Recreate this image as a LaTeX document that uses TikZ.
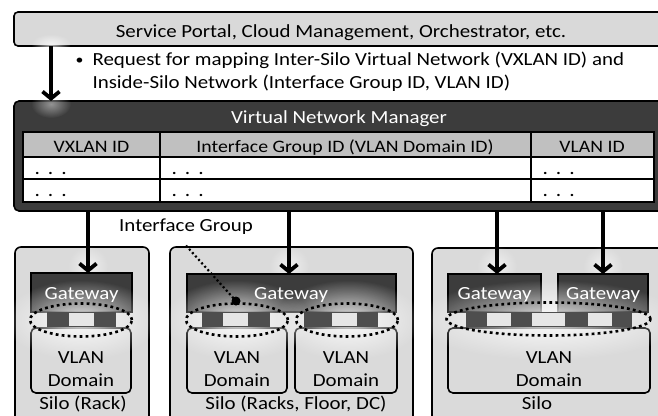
\documentclass[tikz,border=0pt]{standalone}
\usepackage{fontspec}
\setmainfont{Carlito}[FakeStretch=1.13]
\usetikzlibrary{arrows.meta,fadings}
\tikzfading[name=glowfade, inner color=transparent!0, outer color=transparent!100]
\definecolor{lightg}{HTML}{D9D9D9}
\definecolor{darkg}{HTML}{3C3C3C}
\definecolor{headg}{HTML}{C0C0C0}
\definecolor{silog}{HTML}{DADADA}
\definecolor{stripg}{HTML}{4E4E4E}
\definecolor{portg}{HTML}{E6E6E6}
\begin{document}
\begin{tikzpicture}[x=1pt,y=-1pt,
  font=\fontsize{18.5}{23}\selectfont,
  box/.style={draw=black, line width=1.6pt, inner sep=0pt, outer sep=0pt, anchor=north west},
  cell/.style={draw=black, line width=1.4pt, inner sep=0pt, outer sep=0pt, anchor=north west},
  arr/.style={line width=3.8pt, -{Straight Barb[length=7pt,width=17pt]}},
  glow/.style={fill=white, path fading=glowfade},
  hdr/.style={font=\fontsize{17.5}{20}\selectfont, anchor=base},
  dots/.style={font=\fontsize{19}{20}\selectfont, anchor=base west},
  gwtext/.style={text=white, anchor=base},
  ring/.style={draw=black, line width=2.6pt, dash pattern=on 2.8pt off 3.2pt},
  strip/.style={fill=stripg},
  port/.style={fill=portg},
  dom/.style={box, fill=silog, rounded corners=5pt},
  gw/.style={box, fill=darkg, line width=1.2pt}
]
\useasboundingbox (0,0) rectangle (658,415);
\clip (0,0) rectangle (658,415);
\fill[white] (0,0) rectangle (658,415);

% top box
\node[box, fill=lightg, rounded corners=4pt, minimum width=648pt, minimum height=34pt] (portal) at (14,12) {};
\node[anchor=base] (portalt) at (341,37) {Service Portal, Cloud Management, Orchestrator, etc.};
\node[anchor=base east, font=\fontsize{14}{16}\selectfont] (bul) at (87,64) {\textbullet};
\node[anchor=base west] (req1) at (89,65) {Request for mapping Inter-Silo Virtual Network (VXLAN ID) and};
\node[anchor=base west] (req2) at (89,88) {Inside-Silo Network (Interface Group ID, VLAN ID)};

% VNM box
\node[box, fill=darkg, rounded corners=5pt, minimum width=652pt, minimum height=110pt] (vnm) at (14,101) {};
\node[anchor=base, text=white] (vnmt) at (339,123) {Virtual Network Manager};
\fill[glow, fill opacity=0.45] (51,104) ellipse (20pt and 14pt);
\fill[glow, fill opacity=0.7] (51,44) ellipse (20pt and 10pt);

% table
\node[cell, fill=headg, minimum width=137pt, minimum height=25pt] (c11) at (23,132) {};
\node[cell, fill=headg, minimum width=371pt, minimum height=25pt] (c12) at (160,132) {};
\node[cell, fill=headg, minimum width=123pt, minimum height=25pt] (c13) at (531,132) {};
\node[cell, fill=white, minimum width=137pt, minimum height=22pt] (c21) at (23,157) {};
\node[cell, fill=white, minimum width=371pt, minimum height=22pt] (c22) at (160,157) {};
\node[cell, fill=white, minimum width=123pt, minimum height=22pt] (c23) at (531,157) {};
\node[cell, fill=white, minimum width=137pt, minimum height=23pt] (c31) at (23,179) {};
\node[cell, fill=white, minimum width=371pt, minimum height=23pt] (c32) at (160,179) {};
\node[cell, fill=white, minimum width=123pt, minimum height=23pt] (c33) at (531,179) {};
\node[hdr] (h1) at (91.5,152) {VXLAN ID};
\node[hdr] (h2) at (345,152) {Interface Group ID (VLAN Domain ID)};
\node[hdr] (h3) at (592,152) {VLAN ID};
\node[dots] (d21) at (31,174) {.\hspace{8pt}.\hspace{8pt}.};
\node[dots] (d22) at (168,174) {.\hspace{8pt}.\hspace{8pt}.};
\node[dots] (d23) at (539,174) {.\hspace{8pt}.\hspace{8pt}.};
\node[dots] (d31) at (31,196) {.\hspace{8pt}.\hspace{8pt}.};
\node[dots] (d32) at (168,196) {.\hspace{8pt}.\hspace{8pt}.};
\node[dots] (d33) at (539,196) {.\hspace{8pt}.\hspace{8pt}.};

% silos
\node[box, fill=silog, rounded corners=6pt, minimum width=134pt, minimum height=200pt] (silo1) at (15,247) {};
\node[box, fill=silog, rounded corners=6pt, minimum width=243pt, minimum height=200pt] (silo2) at (170,247) {};
\node[box, fill=silog, rounded corners=6pt, minimum width=250pt, minimum height=200pt] (silo3) at (432,248) {};

% arrow glows
\fill[glow, fill opacity=0.6] (88,266) circle (20pt);
\fill[glow, fill opacity=0.6] (289,266) circle (20pt);
\fill[glow, fill opacity=0.6] (497,266) circle (20pt);
\fill[glow, fill opacity=0.6] (603,266) circle (20pt);

% gateways
\node[gw, minimum width=101pt, minimum height=39pt] (g1) at (31,273) {};
\node[gw, minimum width=209pt, minimum height=38pt] (g2) at (187,274) {};
\node[gw, minimum width=93pt, minimum height=38pt] (g3a) at (448,274) {};
\node[gw, minimum width=90pt, minimum height=38pt] (g3b) at (558,274) {};

% VLAN domains
\node[dom, minimum width=100pt, minimum height=65pt] (v1) at (31,328) {};
\node[dom, minimum width=100pt, minimum height=65pt] (v2a) at (187,328) {};
\node[dom, minimum width=102pt, minimum height=65pt] (v2b) at (295,328) {};
\node[dom, minimum width=202pt, minimum height=65pt] (v3) at (448,328) {};

% interface glows
\fill[glow, fill opacity=0.9] (81,320) ellipse (78pt and 40pt);
\fill[glow, fill opacity=0.9] (237,320) ellipse (74pt and 40pt);
\fill[glow, fill opacity=0.9] (348,320) ellipse (74pt and 40pt);
\fill[glow, fill opacity=0.9] (548,320) ellipse (135pt and 40pt);

% strips and ports
\fill[strip] (47,312) rectangle (116,327);
\fill[port] (69,313) rectangle (94,326);
\fill[strip] (202,312) rectangle (270,327);
\fill[port] (223,313) rectangle (248,326);
\fill[strip] (304,312) rectangle (378,327);
\fill[port] (332,313) rectangle (357,326);
\fill[strip] (466,312) rectangle (632,327);
\fill[port] (487,313) rectangle (511,326);
\fill[port] (532,313) rectangle (565,326);
\fill[port] (588,313) rectangle (612,326);

% gateway texts
\node[gwtext] (g1t) at (81.5,299) {Gateway};
\node[gwtext] (g2t) at (291,299) {Gateway};
\node[gwtext] (g3at) at (494.5,299) {Gateway};
\node[gwtext] (g3bt) at (603,299) {Gateway};

% dotted interface groups
\draw[ring] (81,320) ellipse (51pt and 16.5pt);
\draw[ring] (237,320) ellipse (51pt and 16.5pt);
\draw[ring] (347,320) ellipse (51pt and 16.5pt);
\draw[ring] (548.5,319) ellipse (102pt and 16.5pt);

% VLAN domain texts
\node[align=center, anchor=center] (v1t) at (81,369) {VLAN\\Domain};
\node[align=center, anchor=center] (v2at) at (237,369) {VLAN\\Domain};
\node[align=center, anchor=center] (v2bt) at (346,369) {VLAN\\Domain};
\node[align=center, anchor=center] (v3t) at (549,369) {VLAN\\Domain};

% silo labels
\node[anchor=base] (s1t) at (83,409) {Silo (Rack)};
\node[anchor=base] (s2t) at (296,409) {Silo (Racks, Floor, DC)};
\node[anchor=base] (s3t) at (537,409) {Silo};

% interface group label
\node[anchor=base] (igt) at (186,231) {Interface Group};
\coordinate (igdot) at (236,301);
\draw[line width=2.2pt, dash pattern=on 2pt off 2.6pt] (igt.south) ++(0,8) -- (igdot);
\fill (igdot) circle (4.5pt);

% arrows
\coordinate (a0) at (51,0);
\coordinate (b1) at (88,0);
\coordinate (b2) at (289,0);
\coordinate (b3) at (497,0);
\coordinate (b4) at (603,0);
\draw[arr] (portal.south -| a0) -- (vnm.north -| a0);
\draw[arr] (vnm.south -| b1) -- (g1.north -| b1);
\draw[arr] (vnm.south -| b2) -- (g2.north -| b2);
\draw[arr] (vnm.south -| b3) -- (g3a.north -| b3);
\draw[arr] (vnm.south -| b4) -- (g3b.north -| b4);
\end{tikzpicture}
\end{document}
